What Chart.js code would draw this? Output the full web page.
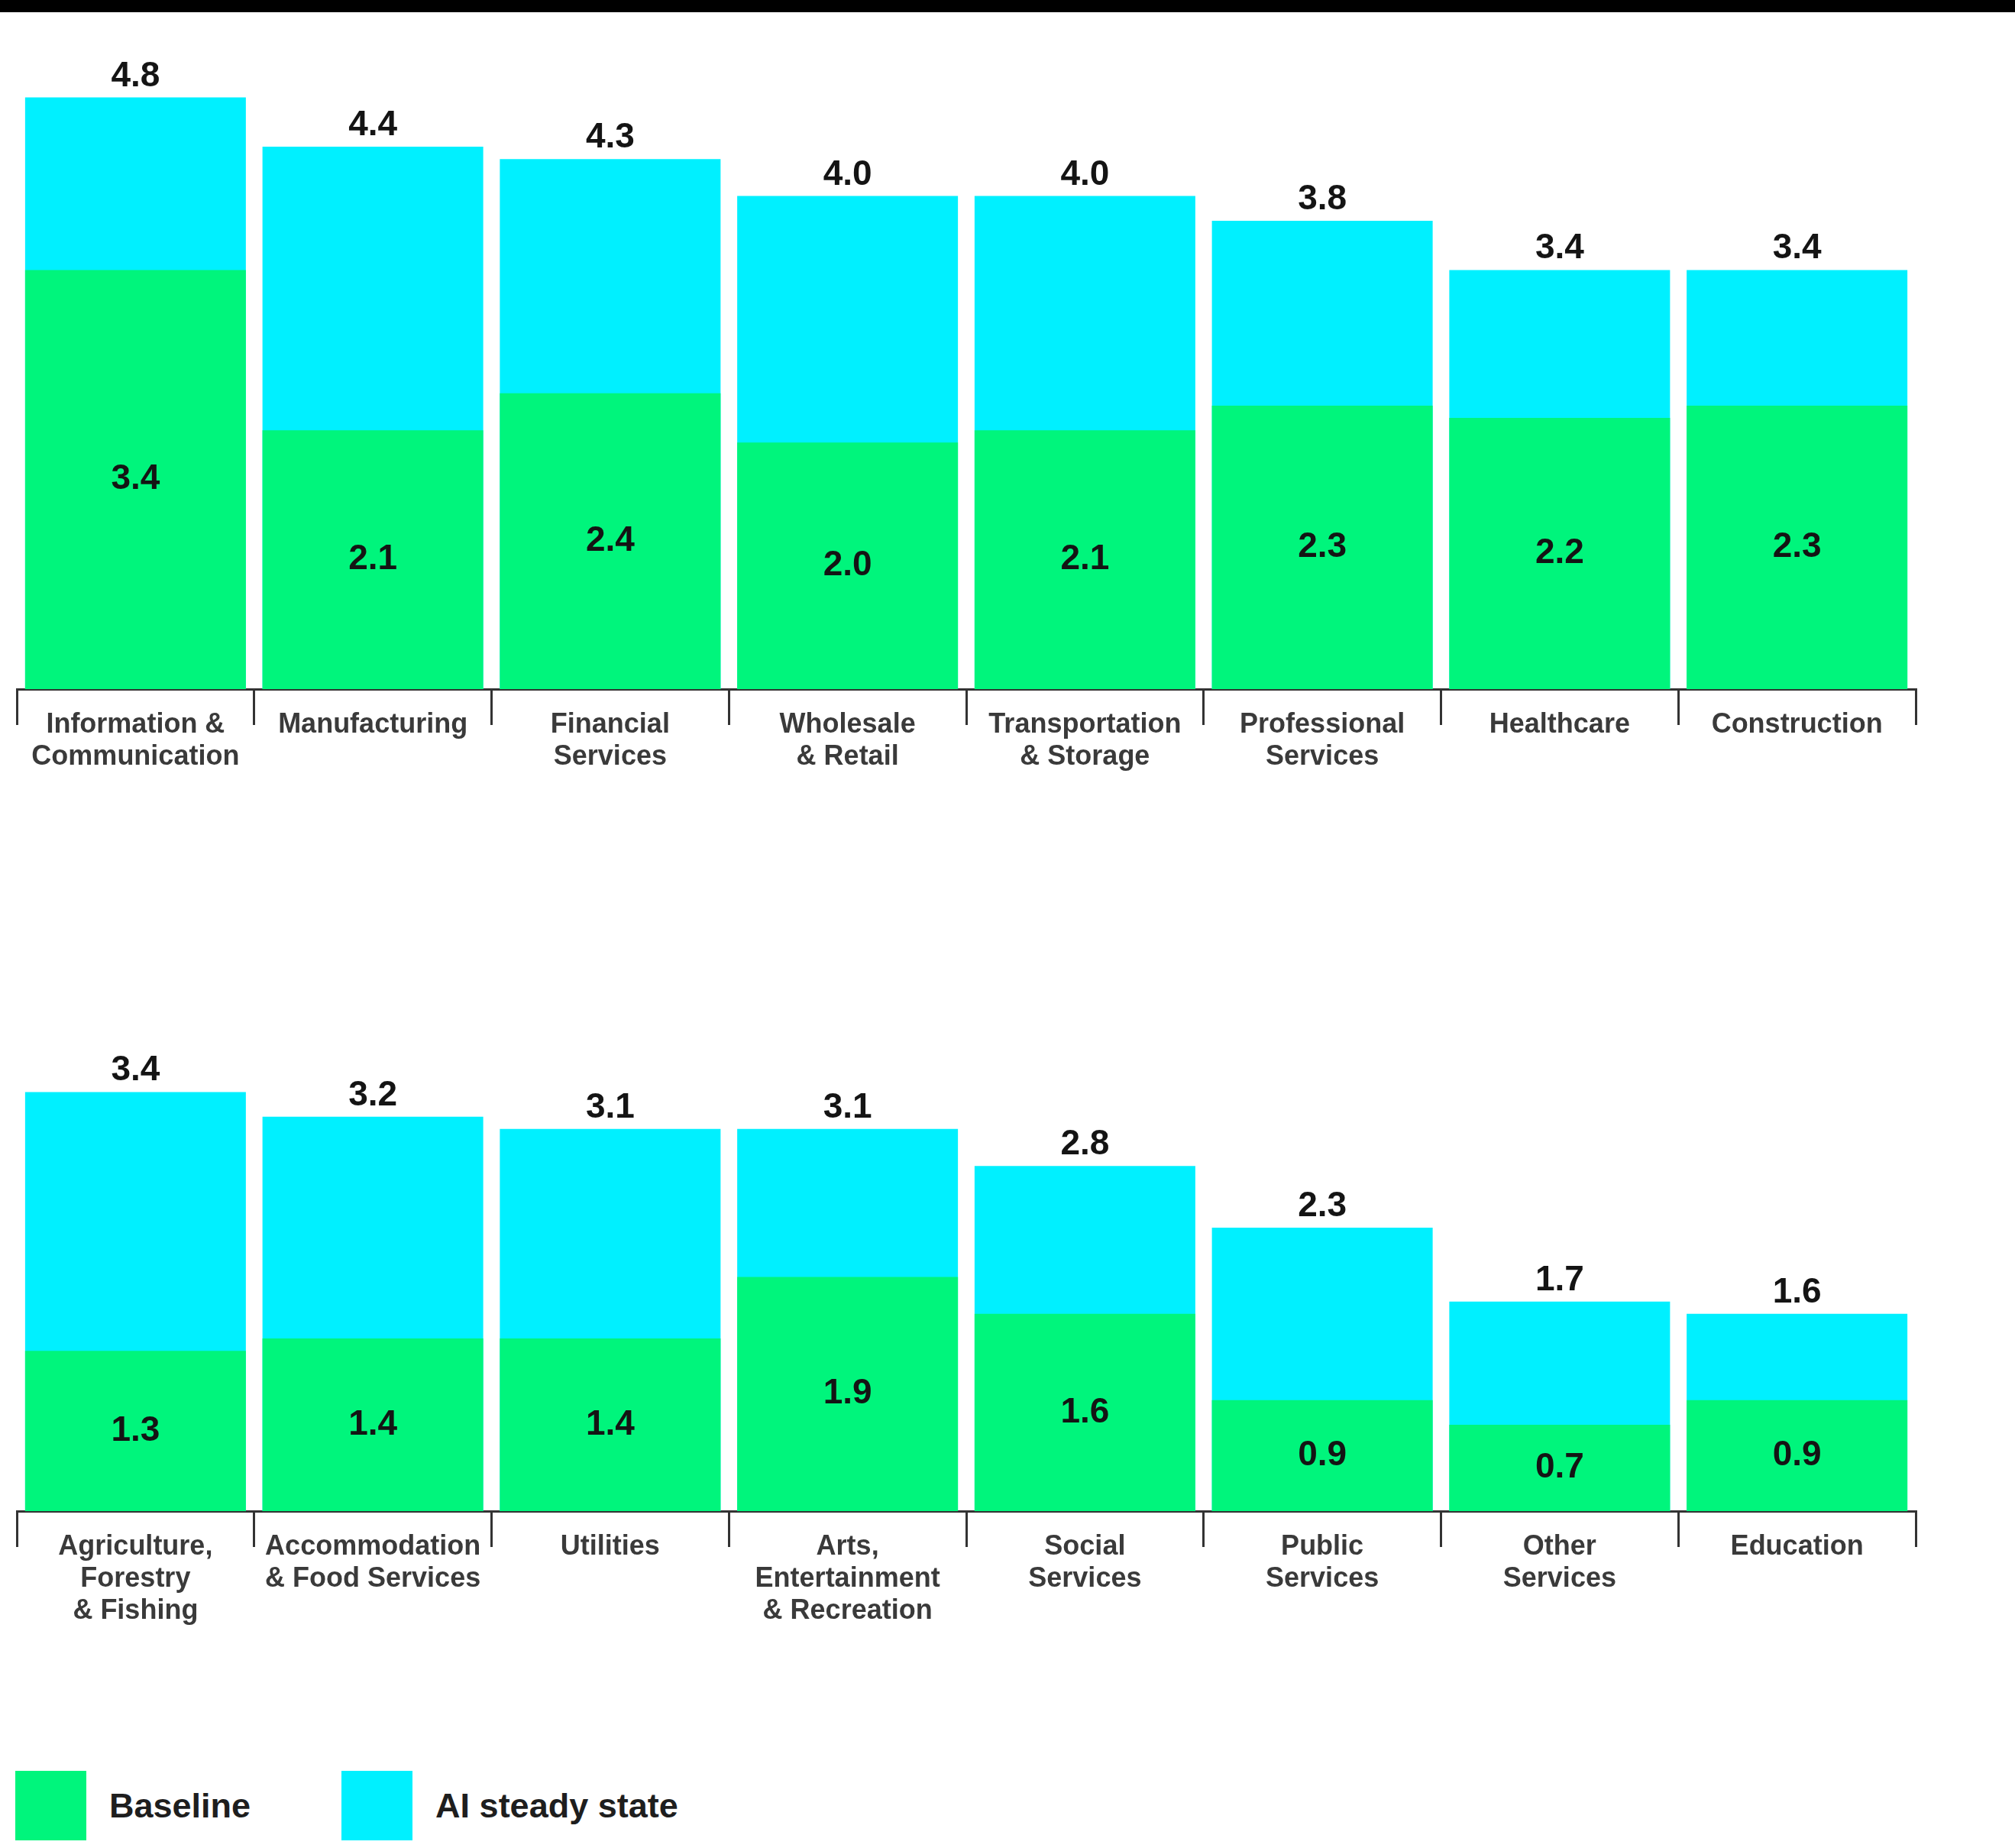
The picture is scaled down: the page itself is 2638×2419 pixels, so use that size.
<!DOCTYPE html>
<html>
<head>
<meta charset="utf-8">
<title>Baseline vs AI steady state by sector</title>
<script src="https://cdn.jsdelivr.net/npm/chart.js@4.4.1/dist/chart.umd.min.js"></script>
<style>
    body { margin: 0; background: #fff; width: 2638px; height: 2419px; overflow: hidden; position: relative; font-family: "Liberation Sans", Arial, sans-serif; }
    .topbar { position: absolute; left: 0; top: 0; width: 2638px; height: 16px; background: #000; }
    #topChart { position: absolute; left: 0; top: 0; }
    #bottomChart { position: absolute; left: 0; top: 1080px; }
    #legend { position: absolute; left: 20px; top: 2318px; display: flex; gap: 119px; }
    .legend-item { display: flex; align-items: center; }
    .legend-box { width: 93px; height: 91px; margin-right: 30px; }
    .legend-text { font-weight: bold; font-size: 45px; color: #1e1e1e; }
</style>
</head>
<body>
<canvas id="topChart" width="2638" height="1062"></canvas>
<canvas id="bottomChart" width="2638" height="1058"></canvas>
<div class="topbar"></div>
<div id="legend"></div>

<script>
// data
const topSectors = [
    ['Information &', 'Communication'], 'Manufacturing', ['Financial', 'Services'], ['Wholesale', '& Retail'],
    ['Transportation', '& Storage'], ['Professional', 'Services'], 'Healthcare', 'Construction'
];
const topBaseline = [3.4, 2.1, 2.4, 2.0, 2.1, 2.3, 2.2, 2.3];
const topSteadyState = [4.8, 4.4, 4.3, 4.0, 4.0, 3.8, 3.4, 3.4];

const bottomSectors = [
    ['Agriculture,', 'Forestry', '& Fishing'], ['Accommodation', '& Food Services'], 'Utilities',
    ['Arts,', 'Entertainment', '& Recreation'], ['Social', 'Services'], ['Public', 'Services'],
    ['Other', 'Services'], 'Education'
];
const bottomBaseline = [1.3, 1.4, 1.4, 1.9, 1.6, 0.9, 0.7, 0.9];
const bottomSteadyState = [3.4, 3.2, 3.1, 3.1, 2.8, 2.3, 1.7, 1.6];

const seriesNames = ['Baseline', 'AI steady state'];
const seriesColors = ['#00f57c', '#00f0ff'];

const FONT = '"Liberation Sans", Arial, sans-serif';

// numbers on the bars: baseline in the middle of the green part, total above the bar
const valueLabels = {
    id: 'valueLabels',
    afterDatasetsDraw(chart) {
        const ctx = chart.ctx;
        ctx.save();
        ctx.font = `bold 46px ${FONT}`;
        ctx.fillStyle = '#141414';
        ctx.textAlign = 'center';
        chart.data.datasets.forEach((ds, i) => {
            chart.getDatasetMeta(i).data.forEach((bar, j) => {
                const text = ds.data[j].toFixed(1);
                if (i === 0) {
                    ctx.textBaseline = 'middle';
                    ctx.fillText(text, bar.x, (bar.y + bar.base) / 2);
                } else {
                    ctx.textBaseline = 'alphabetic';
                    ctx.fillText(text, bar.x, bar.y - 15);
                }
            });
        });
        ctx.restore();
    }
};

function makeChart(id, labels, baseline, steady, padTop) {
    const ctx = document.getElementById(id).getContext('2d');
    return new Chart(ctx, {
        type: 'bar',
        data: {
            labels: labels,
            datasets: [
                { label: seriesNames[0], data: baseline, backgroundColor: seriesColors[0] },
                { label: seriesNames[1], data: steady, backgroundColor: seriesColors[1] }
            ]
        },
        options: {
            responsive: false,
            animation: false,
            layout: { padding: { top: padTop, left: 22, right: 130, bottom: 0 } },
            datasets: {
                bar: { grouped: false, categoryPercentage: 1, barPercentage: 0.93, borderWidth: 0 }
            },
            scales: {
                x: {
                    offset: true,
                    afterFit: (scale) => { scale.height = 160; },
                    border: { display: true, color: '#333', width: 3 },
                    grid: { offset: true, drawOnChartArea: false, tickLength: 47, color: '#333', lineWidth: 3 },
                    ticks: {
                        autoSkip: false,
                        maxRotation: 0,
                        padding: -21,
                        color: '#3a3a3a',
                        font: { family: FONT, size: 36, weight: 'bold', lineHeight: 1.17 }
                    }
                },
                y: { display: false, min: 0, max: 5.2 }
            },
            plugins: {
                legend: { display: false },
                tooltip: { enabled: false }
            }
        },
        plugins: [valueLabels]
    });
}

const topChart = makeChart('topChart', topSectors, topBaseline, topSteadyState, 63);
const bottomChart = makeChart('bottomChart', bottomSectors, bottomBaseline, bottomSteadyState, 59);

// html legend built from the chart's own legend items
const legendEl = document.getElementById('legend');
Chart.defaults.plugins.legend.labels.generateLabels(bottomChart).forEach(item => {
    const row = document.createElement('div');
    row.className = 'legend-item';
    row.innerHTML = `<span class="legend-box" style="background:${item.fillStyle}"></span><span class="legend-text">${item.text}</span>`;
    legendEl.appendChild(row);
});
</script>
</body>
</html>
